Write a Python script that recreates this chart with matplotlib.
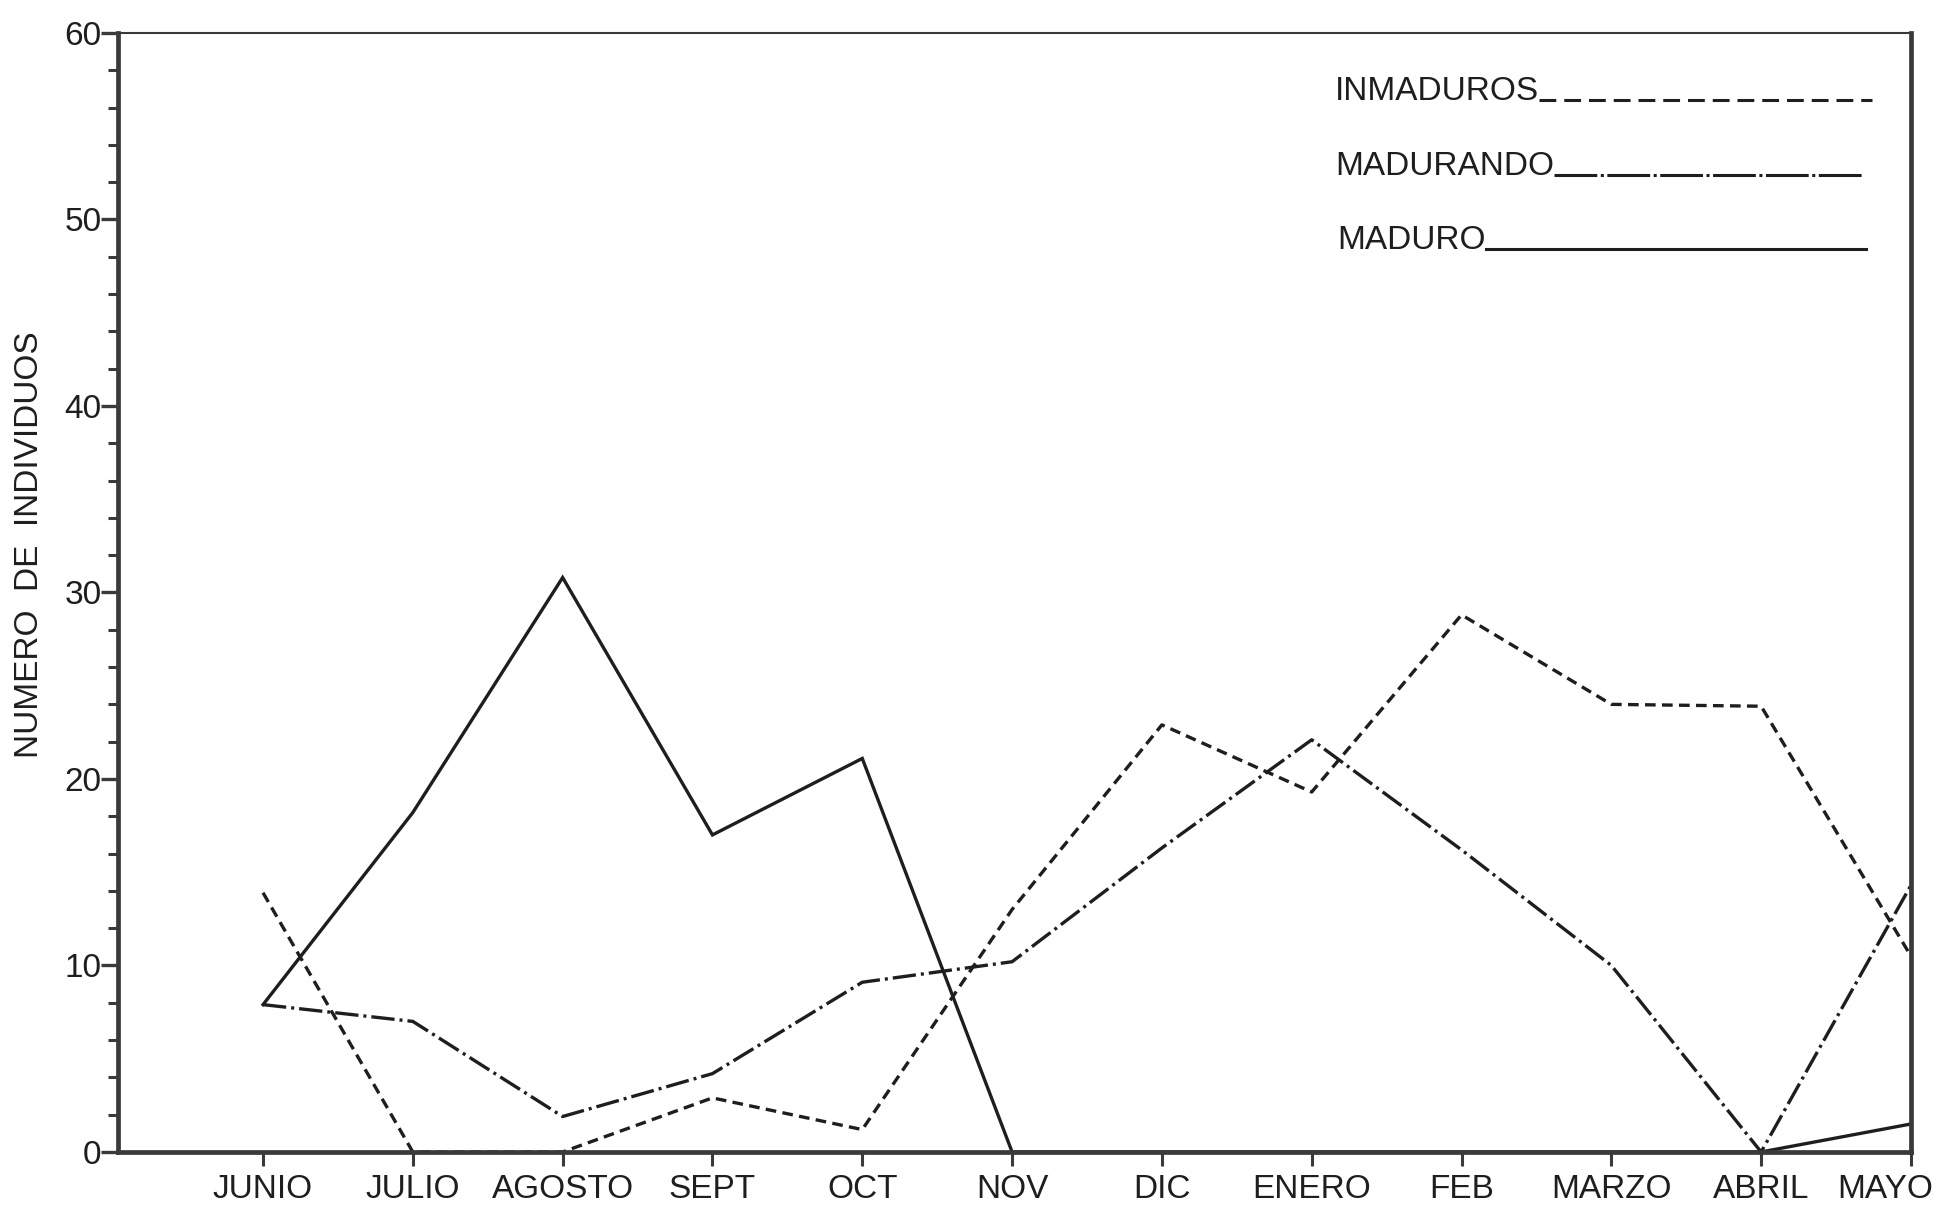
import matplotlib
matplotlib.use("Agg")
import matplotlib.pyplot as plt
import matplotlib.transforms as mtransforms
from matplotlib.lines import Line2D
from matplotlib.ticker import MultipleLocator

# Monthly counts of individuals by maturity stage
meses = ["JUNIO", "JULIO", "AGOSTO", "SEPT", "OCT", "NOV",
         "DIC", "ENERO", "FEB", "MARZO", "ABRIL", "MAYO"]
inmaduros = [13.9, 0, 0, 2.9, 1.2, 13.0, 22.9, 19.3, 28.8, 24.0, 23.9, 10.5]
madurando = [7.9, 7.0, 1.9, 4.2, 9.1, 10.2, 16.3, 22.1, 16.2, 10.0, 0, 14.3]
maduro = [7.9, 18.2, 30.8, 17.0, 21.1, 0, 0, 0, 0, 0, 0, 1.5]

x = list(range(1, len(meses) + 1))

plt.rcParams['font.family'] = ['Liberation Sans', 'DejaVu Sans']
ink = '#1e1e1e'
axis_ink = '#3a3a3a'

fig = plt.figure(figsize=(19.44, 12.07), dpi=100)
ax = fig.add_axes([0.0607, 0.0456, 0.9223, 0.9271])

lw = 2.4
dashed = (3.2, 1.9)
dashdot = (7.0, 1.5, 0.9, 1.5)

ax.plot(x, maduro, color=ink, lw=lw, solid_joinstyle='miter')
ax.plot(x, madurando, color=ink, lw=lw, dashes=dashdot)
ax.plot(x, inmaduros, color=ink, lw=lw, dashes=dashed)

ax.set_xlim(0.032, 12)
ax.set_ylim(0, 60)

# axes frame: heavy left/right/bottom, thin top
for side in ['left', 'right', 'bottom']:
    ax.spines[side].set_linewidth(3.4)
    ax.spines[side].set_color(axis_ink)
ax.spines['top'].set_linewidth(1.5)
ax.spines['top'].set_color(axis_ink)

ax.set_xticks(x)
ax.set_xticklabels(meses)
ax.yaxis.set_major_locator(MultipleLocator(10))
ax.yaxis.set_minor_locator(MultipleLocator(2))
ax.tick_params(axis='x', direction='out', length=10, width=2.2,
               color=axis_ink, pad=6, labelsize=24, labelcolor=ink)
ax.tick_params(axis='y', which='major', direction='out', length=12, width=2.4,
               color=axis_ink, pad=0, labelsize=24, labelcolor=ink)
ax.tick_params(axis='y', which='minor', direction='out', length=7, width=2.2,
               color=axis_ink)

# last month label sits on the right edge; nudge it inwards
last = ax.get_xticklabels()[-1]
last.set_transform(last.get_transform() +
                   mtransforms.ScaledTranslation(-0.26, 0, fig.dpi_scale_trans))

ax.text(-0.0496, 0.5425, "NUMERO  DE  INDIVIDUOS", transform=ax.transAxes,
        rotation=90, ha='center', va='center', fontsize=24, color=ink)

# key: label followed by a sample of the line style
legend_rows = [
    ("INMADUROS", 0.6788, 0.940, 0.978, dict(dashes=(5.5, 2.6))),
    ("MADURANDO", 0.6788, 0.873, 0.973, dict(dashes=(14, 1.15, 1.0, 1.15))),
    ("MADURO", 0.680, 0.807, 0.975, dict()),
]
fig.canvas.draw()
renderer = fig.canvas.get_renderer()
for label, x_text, y_base, x_end, style in legend_rows:
    t = ax.text(x_text, y_base, label, transform=ax.transAxes,
                ha='left', va='baseline', fontsize=24, color=ink)
    bb = t.get_window_extent(renderer)
    x_start = ax.transAxes.inverted().transform((bb.x1, bb.y0))[0]
    ax.add_line(Line2D([x_start, x_end], [y_base, y_base], transform=ax.transAxes,
                       color=ink, lw=2.2, **style))

plt.savefig('out.png', dpi=100, facecolor='white')
